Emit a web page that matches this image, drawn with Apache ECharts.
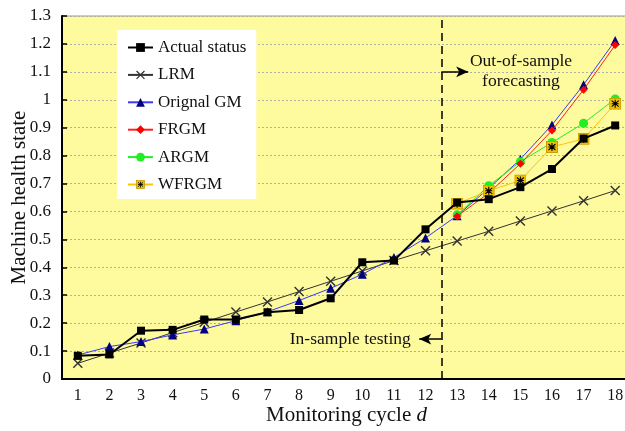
<!DOCTYPE html>
<html>
<head>
<meta charset="utf-8">
<script src="https://cdn.jsdelivr.net/npm/echarts@6/dist/echarts.min.js"></script>
<style>
  html, body { margin: 0; padding: 0; background: #fff; }
  #chart { width: 625px; height: 431px; }
</style>
</head>
<body>
<div id="chart"></div>
<script>
  // monitoring cycles 1..18
  const cycles = ['1','2','3','4','5','6','7','8','9','10','11','12','13','14','15','16','17','18'];
  const actualStatus = [0.083,0.088,0.173,0.176,0.213,0.213,0.239,0.247,0.289,0.418,0.424,0.536,0.632,0.644,0.687,0.752,0.861,0.908];
  const lrm = [0.056,0.093,0.129,0.166,0.203,0.240,0.276,0.313,0.350,0.387,0.424,0.459,0.494,0.529,0.566,0.602,0.638,0.675];
  const originalGM = [0.086,0.116,0.134,0.158,0.179,0.209,0.241,0.281,0.325,0.375,0.435,0.505,0.585,0.683,0.787,0.910,1.054,1.212];
  // forecasting models only given for the out-of-sample cycles
  const frgm = ['-','-','-','-','-','-','-','-','-','-','-','-',0.583,0.666,0.771,0.890,1.036,1.196];
  const argm = ['-','-','-','-','-','-','-','-','-','-','-','-',0.588,0.692,0.778,0.847,0.916,1.003];
  const wfrgm = ['-','-','-','-','-','-','-','-','-','-','-','-',0.628,0.674,0.711,0.831,0.860,0.986];
  const legendNames = ['Actual status','LRM','Orignal GM','FRGM','ARGM','WFRGM'];

  const serif = 'Liberation Serif, Times New Roman, serif';
  const xPath = 'path://M0,1L1,0L5,4L9,0L10,1L6,5L10,9L9,10L5,6L1,10L0,9L4,5Z';
  const wfSvg = '<svg xmlns="http://www.w3.org/2000/svg" width="12" height="12">' +
    '<rect x="0.5" y="0.5" width="11" height="11" fill="#f2c200" stroke="#c89a00"/>' +
    '<path d="M6 2V10M2.5 3L9.5 9M9.5 3L2.5 9M2.5 6H9.5" stroke="#000" stroke-width="1.1"/></svg>';
  const wfSymbol = 'image://data:image/svg+xml;charset=utf-8,' + encodeURIComponent(wfSvg);

  const chart = echarts.init(document.getElementById('chart'));
  const option = {
    animation: false,
    textStyle: { fontFamily: serif },
    grid: {
      left: 62, right: -6, top: 16, bottom: 52,
      outerBoundsMode: 'none',
      show: true, backgroundColor: '#fefa9e', borderColor: '#9a9a9a', borderWidth: 1
    },
    legend: {
      data: legendNames,
      orient: 'vertical',
      left: 117, top: 30,
      backgroundColor: '#fff',
      padding: [9, 10, 6, 10],
      itemWidth: 25, itemHeight: 11, itemGap: 10.4,
      textStyle: { fontFamily: serif, fontSize: 17, color: '#111' }
    },
    xAxis: [{
      type: 'category',
      data: cycles,
      name: 'Monitoring cycle {i|d}',
      nameLocation: 'middle',
      nameGap: 26,
      nameMoveOverlap: false,
      nameTextStyle: {
        fontFamily: serif, fontSize: 21, color: '#111',
        rich: { i: { fontFamily: serif, fontSize: 21, fontStyle: 'italic', color: '#111' } }
      },
      axisLine: { lineStyle: { color: '#000', width: 2 } },
      axisTick: { inside: true, length: 5, lineStyle: { color: '#000', width: 1.5 } },
      axisLabel: { fontFamily: serif, fontSize: 16, color: '#111', margin: 9 },
      splitLine: { show: false }
    }, {
      // hidden value axis used to place the cut-off line and annotations
      type: 'value', min: 0.5, max: 18.5, show: false
    }],
    yAxis: {
      type: 'value',
      min: 0, max: 1.3, interval: 0.1,
      name: 'Machine health state',
      nameLocation: 'middle',
      nameGap: 32,
      nameMoveOverlap: false,
      nameTextStyle: { fontFamily: serif, fontSize: 21, color: '#111' },
      axisLine: { show: true, lineStyle: { color: '#000', width: 2 } },
      axisTick: { inside: true, length: 5, lineStyle: { color: '#000', width: 1.5 } },
      axisLabel: {
        fontFamily: serif, fontSize: 17, color: '#111', margin: 11,
        formatter: v => String(+v.toFixed(1))
      },
      splitLine: { lineStyle: { color: '#b0b0a0', type: [2, 2], width: 1 } }
    },
    series: [
      {
        name: 'Actual status', type: 'line', data: actualStatus, z: 6,
        symbol: 'rect', symbolSize: 8,
        lineStyle: { color: '#000', width: 2 }, itemStyle: { color: '#000' }
      },
      {
        name: 'LRM', type: 'line', data: lrm, z: 3,
        symbol: xPath, symbolSize: 10,
        lineStyle: { color: '#333', width: 1 }, itemStyle: { color: '#333' }
      },
      {
        name: 'Orignal GM', type: 'line', data: originalGM, z: 4,
        symbol: 'triangle', symbolSize: 9,
        lineStyle: { color: '#3a3aff', width: 1 }, itemStyle: { color: '#000080' }
      },
      {
        name: 'FRGM', type: 'line', data: frgm, z: 5,
        symbol: 'diamond', symbolSize: 8,
        lineStyle: { color: '#ff2020', width: 1 }, itemStyle: { color: '#ff0000' }
      },
      {
        name: 'ARGM', type: 'line', data: argm, z: 4,
        symbol: 'circle', symbolSize: 9,
        lineStyle: { color: '#22ee22', width: 1 }, itemStyle: { color: '#22ee22' }
      },
      {
        name: 'WFRGM', type: 'line', data: wfrgm, z: 5,
        symbol: wfSymbol, symbolSize: 12,
        lineStyle: { color: '#ffc400', width: 1 }, itemStyle: { color: '#f2c200' }
      },
      {
        // annotations: in-sample / out-of-sample divider
        name: 'divider', type: 'line', xAxisIndex: 1, data: [], z: 7,
        markLine: {
          silent: true, symbol: 'none', animation: false,
          label: { show: false },
          lineStyle: { color: '#000', type: [8, 5], width: 1.5 },
          data: [{ xAxis: 12.5 }]
        }
      },
      {
        name: 'arrows', type: 'line', xAxisIndex: 1, data: [], z: 7,
        markLine: {
          silent: true, symbol: ['none', 'arrow'], symbolSize: [8, 12], animation: false,
          label: { show: false },
          lineStyle: { color: '#000', type: 'solid', width: 1.5 },
          data: [
            [{ coord: [12.5, 1.1] }, { coord: [13.35, 1.1] }],
            [{ coord: [12.5, 0.143] }, { coord: [11.8, 0.143] }]
          ]
        },
        markPoint: {
          silent: true, symbolSize: 0, animation: false,
          label: {
            show: true, position: 'inside', fontFamily: serif, fontSize: 17.5,
            color: '#111', lineHeight: 20
          },
          data: [
            { coord: [15.02, 1.1], value: 0, label: { formatter: 'Out-of-sample\nforecasting' } },
            { coord: [9.62, 0.143], value: 0, label: { formatter: 'In-sample testing' } }
          ]
        }
      }
    ]
  };
  chart.setOption(option);
</script>
</body>
</html>
